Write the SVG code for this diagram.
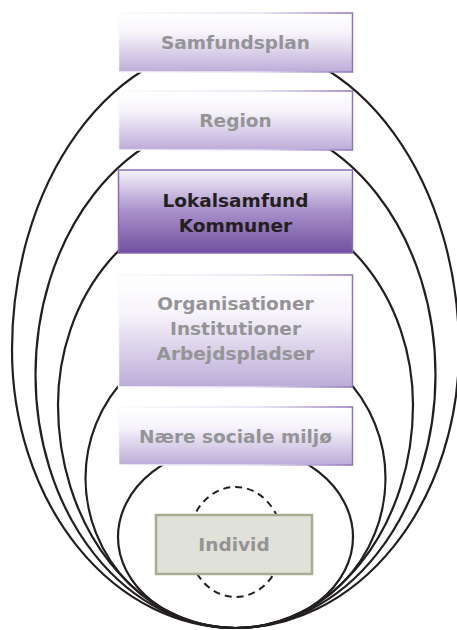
<svg xmlns="http://www.w3.org/2000/svg" width="457" height="630" viewBox="0 0 457 630">
<defs>
<linearGradient id="lightFill" x1="0" y1="0" x2="0" y2="1">
<stop offset="0" stop-color="#ffffff"/>
<stop offset="0.35" stop-color="#f6f3fa"/>
<stop offset="1" stop-color="#bcacd8"/>
</linearGradient>
<linearGradient id="lightStroke" x1="0" y1="0" x2="1" y2="0">
<stop offset="0" stop-color="#fbfafd"/>
<stop offset="0.6" stop-color="#e6dff1"/>
<stop offset="1" stop-color="#8f73bb"/>
</linearGradient>
<linearGradient id="darkFill" x1="0" y1="0" x2="0" y2="1">
<stop offset="0" stop-color="#f6f4fa"/>
<stop offset="0.5" stop-color="#a88fca"/>
<stop offset="1" stop-color="#71519f"/>
</linearGradient>
</defs>
<style>
.ring{fill:none;stroke:#231f20;stroke-width:2.2}
.dash{fill:none;stroke:#231f20;stroke-width:2;stroke-dasharray:7 5}
.light{fill:url(#lightFill);stroke:url(#lightStroke);stroke-width:1.5}
.dark{fill:url(#darkFill);stroke:#8a6cb8;stroke-width:1.5}
.ind{fill:#e0e1d9;stroke:#a9aa8f;stroke-width:2.5}
text{font-family:"DejaVu Sans","Liberation Sans",sans-serif;font-weight:bold;font-size:18.5px;text-anchor:middle}
.g{fill:#949496}
.k{fill:#231f20}
</style>
<g id="connectors">
<path class="ring" d="M12,350 A223.5,307 0 0 1 459,350 A223.5,278 0 0 1 12,350 Z"/>
<path class="ring" d="M35.5,375 A200,256 0 0 1 435.5,375 A200,253 0 0 1 35.5,375 Z"/>
<path class="ring" d="M58,405 A177.5,205 0 0 1 413,405 A177.5,223 0 0 1 58,405 Z"/>
<path class="ring" d="M85.5,478 A150,147 0 0 1 385.5,478 A150,150 0 0 1 85.5,478 Z"/>
<path class="ring" d="M118,537 A117.5,92 0 0 1 353,537 A117.5,91 0 0 1 118,537 Z"/>
<ellipse class="dash" cx="235.5" cy="542" rx="47" ry="55"/>
</g>
<g id="samfundsplan">
<rect class="light" x="118.5" y="13" width="234" height="59"/>
<text class="g" x="235.5" y="48.5">Samfundsplan</text>
</g>
<g id="region">
<rect class="light" x="118.5" y="91" width="234" height="59"/>
<text class="g" x="235.5" y="127">Region</text>
</g>
<g id="lokalsamfund">
<rect class="dark" x="118.5" y="170" width="234" height="83"/>
<text class="k" x="235.5" y="206.5">Lokalsamfund</text>
<text class="k" x="235.5" y="231.5">Kommuner</text>
</g>
<g id="organisationer">
<rect class="light" x="118.5" y="275" width="234" height="112"/>
<text class="g" x="235.5" y="309.5">Organisationer</text>
<text class="g" x="235.5" y="334.5">Institutioner</text>
<text class="g" x="235.5" y="359.5">Arbejdspladser</text>
</g>
<g id="naere">
<rect class="light" x="118.5" y="407" width="234" height="58"/>
<text class="g" x="235.5" y="443">Nære sociale miljø</text>
</g>
<g id="individ">
<rect class="ind" x="156" y="515" width="156" height="59"/>
<text class="g" x="234" y="550.5">Individ</text>
</g>
</svg>
